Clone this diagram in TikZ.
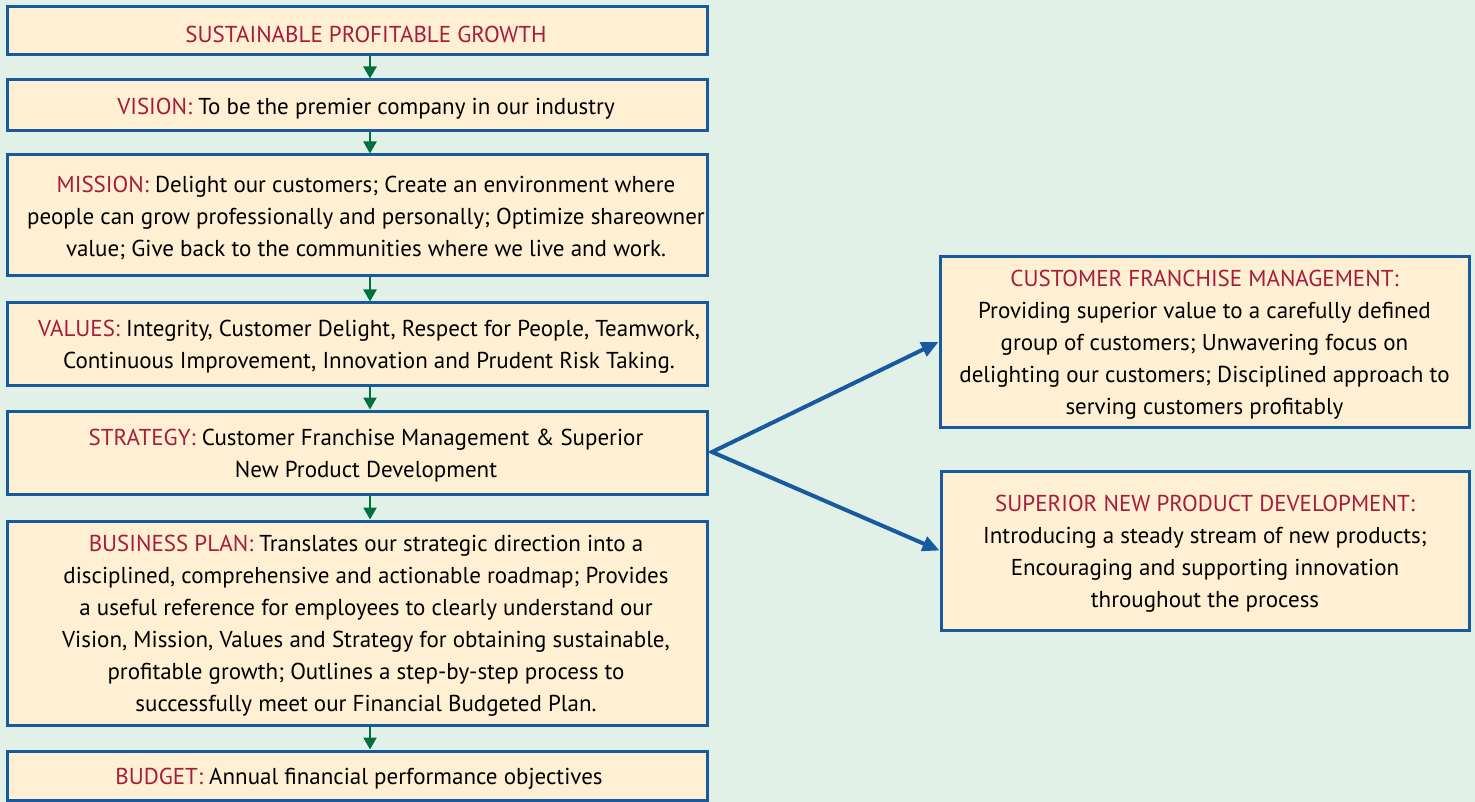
\documentclass[tikz,border=0pt]{standalone}
\usepackage{fontspec}
\setmainfont{PT Sans}
\usetikzlibrary{arrows.meta}
\definecolor{bgc}{RGB}{226,241,232}
\definecolor{boxfill}{RGB}{255,240,212}
\definecolor{boxline}{RGB}{24,90,160}
\definecolor{hred}{RGB}{166,28,60}
\definecolor{agreen}{RGB}{0,112,60}
\newcommand{\hd}[1]{\textcolor{hred}{#1}}
\begin{document}
\begin{tikzpicture}[x=1pt,y=-1pt,
  box/.style={draw=boxline,line width=3pt,fill=boxfill,rectangle,inner sep=0pt},
  txt/.style={align=center,inner sep=0pt,font=\fontsize{23}{32}\selectfont,text=black,xshift=9pt,yshift=-3pt},
  garrow/.style={draw=agreen,line width=2.5pt,-{Triangle[length=12pt,width=13pt]}},
  barrow/.style={draw=boxline,line width=4pt,{Triangle[length=17pt,width=15pt]}-{Triangle[length=17pt,width=15pt]}}]
\fill[bgc] (0,0) rectangle (1475,802);
\useasboundingbox (0,0) rectangle (1475,802);
\node[box,minimum width=700pt,minimum height=48pt] (b1) at (357,31) {};
\node[box,minimum width=700pt,minimum height=51pt] (b2) at (357,105.5) {};
\node[box,minimum width=700pt,minimum height=121pt] (b3) at (357,215.5) {};
\node[box,minimum width=700pt,minimum height=82pt] (b4) at (357,344) {};
\node[box,minimum width=700pt,minimum height=83pt] (b5) at (357,452.5) {};
\node[box,minimum width=700pt,minimum height=204pt] (b6) at (357,623) {};
\node[box,minimum width=700pt,minimum height=49pt] (b7) at (357,775.5) {};
\node[box,minimum width=529pt,minimum height=170pt] (ra) at (1204.5,342) {};
\node[box,minimum width=528pt,minimum height=159pt] (rb) at (1205,550.5) {};
\node[txt] (t1) at (b1.center) {\hd{SUSTAINABLE PROFITABLE GROWTH}};
\node[txt] (t2) at (b2.center) {\hd{VISION:} To be the premier company in our industry};
\node[txt] (t3) at (b3.center)
  {\hd{MISSION:} Delight our customers; Create an environment where\\
   people can grow professionally and personally; Optimize shareowner\\
   value; Give back to the communities where we live and work.};
\node[txt,xshift=3pt] (t4) at (b4.center)
  {\hd{VALUES:} Integrity, Customer Delight, Respect for People, Teamwork,\\
   Continuous Improvement, Innovation and Prudent Risk Taking.};
\node[txt] (t5) at (b5.center)
  {\hd{STRATEGY:} Customer Franchise Management \& Superior\\
   New Product Development};
\node[txt] (t6) at (b6.center)
  {\hd{BUSINESS PLAN:} Translates our strategic direction into a\\
   disciplined, comprehensive and actionable roadmap; Provides\\
   a useful reference for employees to clearly understand our\\
   Vision, Mission, Values and Strategy for obtaining sustainable,\\
   profitable growth; Outlines a step-by-step process to\\
   successfully meet our Financial Budgeted Plan.};
\node[txt,xshift=-7pt] (t7) at (b7.center) {\hd{BUDGET:} Annual financial performance objectives};
\node[txt,xshift=-9pt] (ta) at (ra.center)
  {\hd{CUSTOMER FRANCHISE MANAGEMENT:}\\
   Providing superior value to a carefully defined\\
   group of customers; Unwavering focus on\\
   delighting our customers; Disciplined approach to\\
   serving customers profitably};
\node[txt,xshift=-9pt] (tb) at (rb.center)
  {\hd{SUPERIOR NEW PRODUCT DEVELOPMENT:}\\
   Introducing a steady stream of new products;\\
   Encouraging and supporting innovation\\
   throughout the process};
\coordinate (ax) at (370,0);
\coordinate (v) at (712,452);
\foreach \a/\b in {b1/b2,b2/b3,b3/b4,b4/b5,b5/b6,b6/b7}
  \draw[garrow] (\a.south -| ax) -- (\b.north -| ax);
\draw[barrow,line join=miter] (ra.west) -- (v) -- (rb.west);
\end{tikzpicture}
\end{document}
